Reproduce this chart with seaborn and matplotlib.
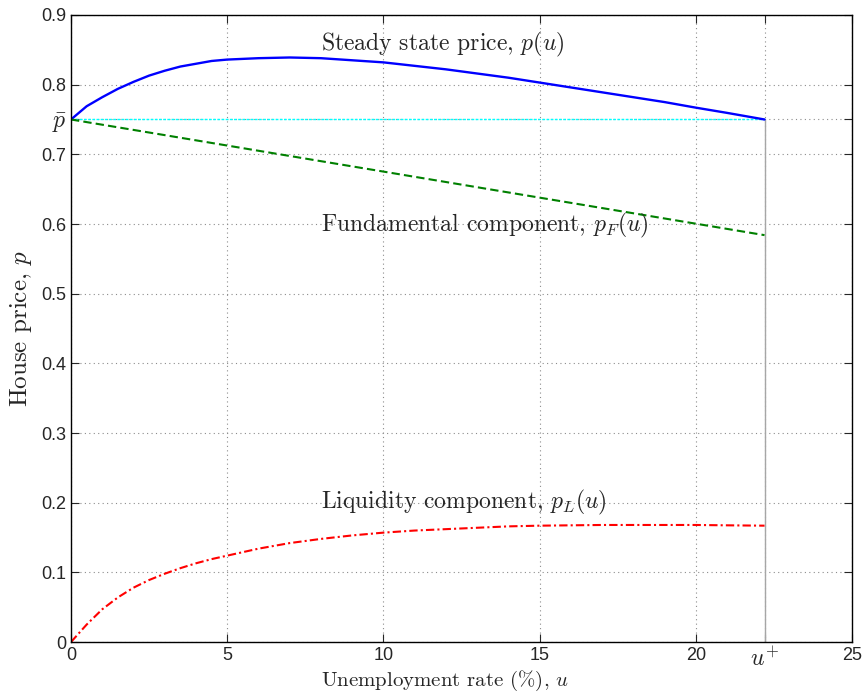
import numpy as np
import pandas as pd
import seaborn as sns
import matplotlib.pyplot as plt

# values
u = [0, 0.5, 1, 1.5, 2, 2.5, 3, 3.5, 4, 4.5, 5, 6, 7, 8, 9, 10, 11, 12, 13, 14,
     15, 16, 17, 18, 19, 20, 21, 22.2]
p_steady = [0.750, 0.769, 0.782, 0.794, 0.804, 0.813, 0.820, 0.826, 0.830, 0.834,
            0.836, 0.838, 0.839, 0.838, 0.835, 0.832, 0.827, 0.822, 0.816, 0.810,
            0.803, 0.796, 0.789, 0.782, 0.775, 0.767, 0.7595, 0.750]
p_liq = [0.000, 0.025, 0.047, 0.064, 0.078, 0.089, 0.098, 0.106, 0.113, 0.119,
         0.124, 0.134, 0.142, 0.148, 0.153, 0.157, 0.160, 0.162, 0.164, 0.166,
         0.167, 0.1675, 0.168, 0.168, 0.168, 0.168, 0.1675, 0.167]
# fundamental component is a straight line
u_fund = [0, 22.2]
p_fund = [0.750, 0.584]
p_bar = 0.75
u_plus = 22.2

x_ticks = [0, 5, 10, 15, 20, u_plus, 25]
x_ticklabels = ['0', '5', '10', '15', '20', r'$u^{+}$', '25']
y_ticks = [0, 0.1, 0.2, 0.3, 0.4, 0.5, 0.6, 0.7, p_bar, 0.8, 0.9]
y_ticklabels = ['0', '0.1', '0.2', '0.3', '0.4', '0.5', '0.6', '0.7', r'$\bar{p}$', '0.8', '0.9']

df = pd.DataFrame({'u': u, 'steady': p_steady, 'liq': p_liq})

sns.set_style('ticks')
plt.rcParams['font.family'] = ['Liberation Sans', 'DejaVu Sans']
plt.rcParams['mathtext.fontset'] = 'cm'

fig = plt.figure(figsize=(8.67, 6.94), dpi=100)
ax = fig.add_axes([0.0819, 0.0749, 0.9008, 0.9035])

ax.grid(True, ls=(0, (1, 3)), color='0.55', lw=0.8)
ax.set_axisbelow(True)

# reference lines at p-bar and u+
ax.plot([0, u_plus], [p_bar, p_bar], color='cyan', lw=1.0, ls=(0, (2, 1)))
ax.plot([u_plus, u_plus], [0, p_bar], color='0.65', lw=1.0)

sns.lineplot(data=df, x='u', y='steady', ax=ax, color='blue', lw=1.7)
sns.lineplot(x=u_fund, y=p_fund, ax=ax, color=(0, 0.5, 0), lw=1.5, ls=(0, (4, 2)))
sns.lineplot(data=df, x='u', y='liq', ax=ax, color='red', lw=1.5, ls=(0, (4, 1.5, 1, 1.5)))

ax.set_xlim(0, 25)
ax.set_ylim(0, 0.9)
ax.set_xticks(x_ticks)
ax.set_xticklabels(x_ticklabels)
ax.set_yticks(y_ticks)
ax.set_yticklabels(y_ticklabels)
ax.tick_params(direction='in', top=True, right=True, labelsize=13, length=6, width=0.8)
for lbl in ax.get_xticklabels() + ax.get_yticklabels():
    if '$' in lbl.get_text():
        lbl.set_fontsize(17)

for s in ax.spines.values():
    s.set_linewidth(1.0)
    s.set_color('black')

ax.set_xlabel(r'Unemployment rate (%), $u$', family='cmr10', fontsize=15)
ax.xaxis.set_label_coords(0.479, -0.043)
ax.set_ylabel(r'House price, $p$', labelpad=5, family='cmr10', fontsize=18)

note = dict(family='cmr10', fontsize=17, va='center')
ax.text(8.0, 0.858, r'Steady state price, $p(u)$', **note)
ax.text(8.0, 0.598, r'Fundamental component, $p_F(u)$', **note)
ax.text(8.0, 0.201, r'Liquidity component, $p_L(u)$', **note)

fig.savefig('out.png', dpi=100)
